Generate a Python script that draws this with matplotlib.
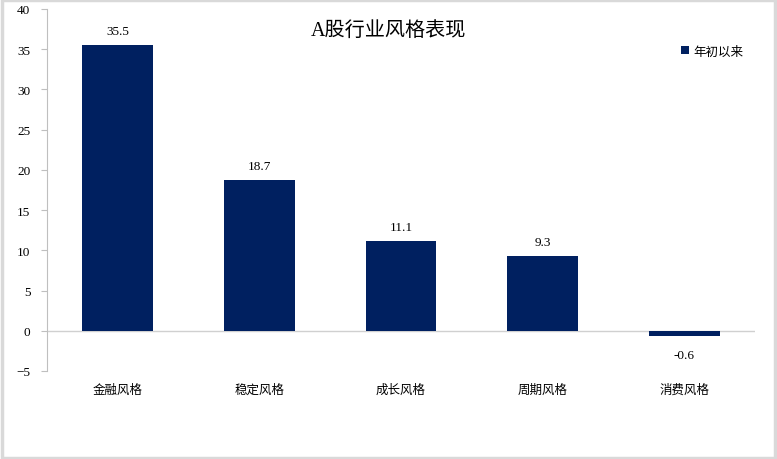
import matplotlib.pyplot as plt
import numpy as np

plt.rcParams['font.family'] = ['Liberation Serif', 'Noto Sans CJK SC']

categories = ['金融风格', '稳定风格', '成长风格', '周期风格', '消费风格']
values = [35.5, 18.7, 11.1, 9.3, -0.6]
series_name = '年初以来'
title = 'A股行业风格表现'

bar_color = '#002060'
gray = '#bfbfbf'

fig = plt.figure(figsize=(7.77, 4.60), dpi=100)
fig.patch.set_facecolor('white')
# outer frame of the chart
fig.add_artist(plt.Rectangle((0.002, 0.003), 0.995, 0.994, transform=fig.transFigure,
                             fill=False, edgecolor='#d9d9d9', linewidth=2.5))

ax = fig.add_axes([47 / 777, 1 - 372 / 460, 708 / 777, 362 / 460])
x = np.arange(len(categories))
bars = ax.bar(x, values, width=0.5, color=bar_color, label=series_name, zorder=3)

ax.set_xlim(-0.5, len(categories) - 0.5)
ax.set_ylim(-5, 40)
ax.set_yticks(np.arange(-5, 41, 5))
ax.set_xticks(x)
ax.set_xticklabels(categories, fontsize=9)
ax.tick_params(axis='x', length=0, pad=9)
ax.tick_params(axis='y', direction='out', length=4, color=gray, labelsize=9.5, pad=8)

for s in ['top', 'right', 'bottom']:
    ax.spines[s].set_visible(False)
ax.spines['left'].set_color(gray)
ax.axhline(0, color='#d0d0d0', linewidth=1, zorder=2)

# value labels
for b, v in zip(bars, values):
    if v >= 0:
        ax.annotate(f'{v:.1f}', (b.get_x() + b.get_width() / 2, v), xytext=(0, 6),
                    textcoords='offset points', ha='center', va='bottom', fontsize=9.5)
    else:
        ax.annotate(f'{v:.1f}', (b.get_x() + b.get_width() / 2, v), xytext=(0, -10),
                    textcoords='offset points', ha='center', va='top', fontsize=9.5)

fig.text(0.5, 1 - 31 / 460, title, ha='center', va='center', fontsize=14.5)

ax.legend(loc='upper right', bbox_to_anchor=(1.0, 0.93), frameon=False, fontsize=9,
          handlelength=0.6, handleheight=0.6, handletextpad=0.4)

fig.savefig('out.png', dpi=100)
